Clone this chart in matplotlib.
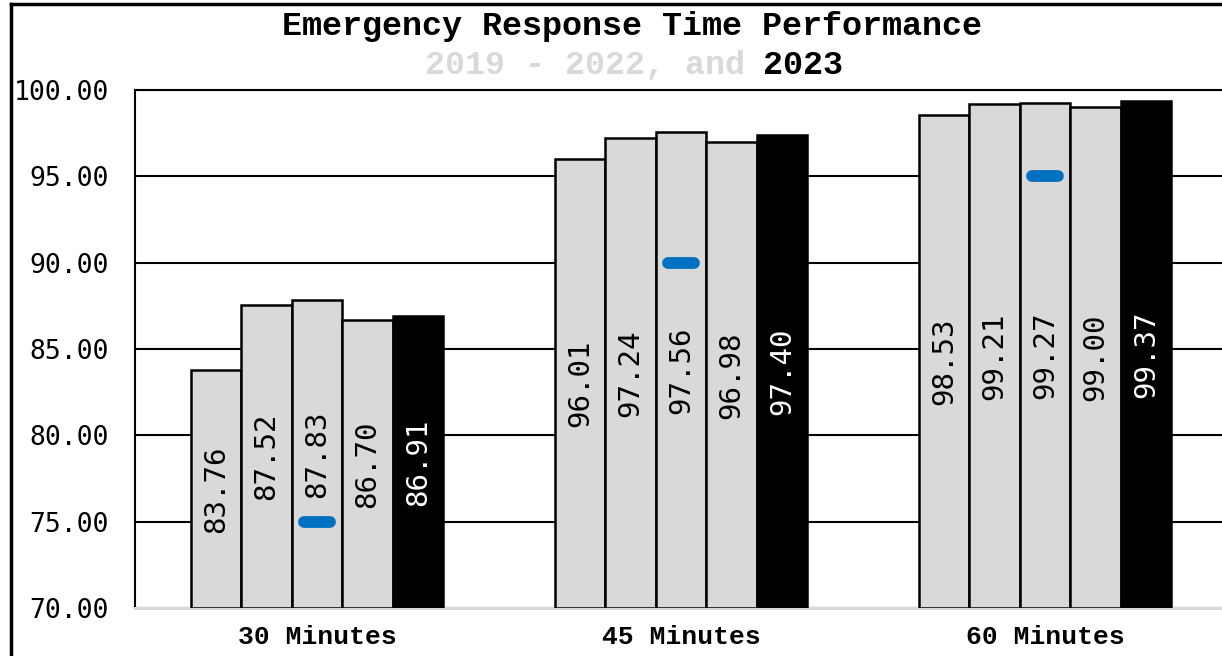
import matplotlib.pyplot as plt
import numpy as np
from matplotlib.lines import Line2D

categories = ['30 Minutes', '45 Minutes', '60 Minutes']
years = ['2019', '2020', '2021', '2022', '2023']
values = {
    '2019': [83.76, 96.01, 98.53],
    '2020': [87.52, 97.24, 99.21],
    '2021': [87.83, 97.56, 99.27],
    '2022': [86.70, 96.98, 99.00],
    '2023': [86.91, 97.40, 99.37],
}
targets = [75, 90, 95]
yticks = [70, 75, 80, 85, 90, 95, 100]

mono = 'DejaVu Sans Mono'
courier = 'Liberation Mono'
gray = '#D9D9D9'

fig = plt.figure(figsize=(12.22, 6.56), dpi=100)
ax = fig.add_axes([135 / 1222, 48 / 656, 1092 / 1222, 518 / 656])

x = np.arange(len(categories))
w = 0.139
for i, yr in enumerate(years):
    pos = x + (i - 2) * w
    face = 'black' if yr == '2023' else gray
    ax.bar(pos, np.array(values[yr]) - 70, width=w, bottom=70, color=face,
           edgecolor='black', linewidth=1.8, zorder=3)
    for p, v in zip(pos, values[yr]):
        ax.text(p, (70 + v) / 2, f'{v:.2f}', rotation=90, ha='center', va='center',
                fontsize=21, family=mono,
                color='white' if yr == '2023' else 'black', zorder=5)

# target markers on the middle bar
ax.hlines(targets, x - 0.037, x + 0.037, colors='#0070C0', linewidth=8.5,
          capstyle='round', zorder=4)

ax.set_xlim(-0.5, 2.5)
ax.set_ylim(70, 100)
ax.set_yticks(yticks)
ax.set_yticklabels([f'{t:.2f}' for t in yticks], family=mono, fontsize=19)
ax.set_xticks(x)
ax.set_xticklabels(categories, family=courier, fontsize=19, fontweight='bold')
ax.tick_params(axis='y', length=0, pad=19)
ax.tick_params(axis='x', length=0, pad=12)

ax.yaxis.grid(True, color='black', linewidth=1.5, zorder=0)
ax.set_axisbelow(True)
ax.spines['right'].set_visible(False)
ax.spines['top'].set_color('black')
ax.spines['top'].set_linewidth(1.5)
ax.spines['left'].set_color('black')
ax.spines['left'].set_linewidth(1.5)
ax.spines['bottom'].set_color(gray)
ax.spines['bottom'].set_linewidth(2.2)

# titles
fig.text(632 / 1222, 1 - 27 / 656, 'Emergency Response Time Performance',
         ha='center', va='center', family=courier, fontsize=24, fontweight='bold')
sy = 1 - 65 / 656
fig.text(745 / 1222, sy, '2019 - 2022, and', ha='right', va='center', family=courier,
         fontsize=24, fontweight='bold', color=gray)
fig.text(763 / 1222, sy, '2023', ha='left', va='center', family=courier,
         fontsize=24, fontweight='bold', color='black')

# outer frame
fig.add_artist(Line2D([11 / 1222, 11 / 1222], [0, 1 - 4 / 656], color='black',
                      linewidth=2.5, transform=fig.transFigure))
fig.add_artist(Line2D([11 / 1222, 1], [1 - 4 / 656, 1 - 4 / 656], color='black',
                      linewidth=2.5, transform=fig.transFigure))

fig.savefig('out.png', dpi=100)
